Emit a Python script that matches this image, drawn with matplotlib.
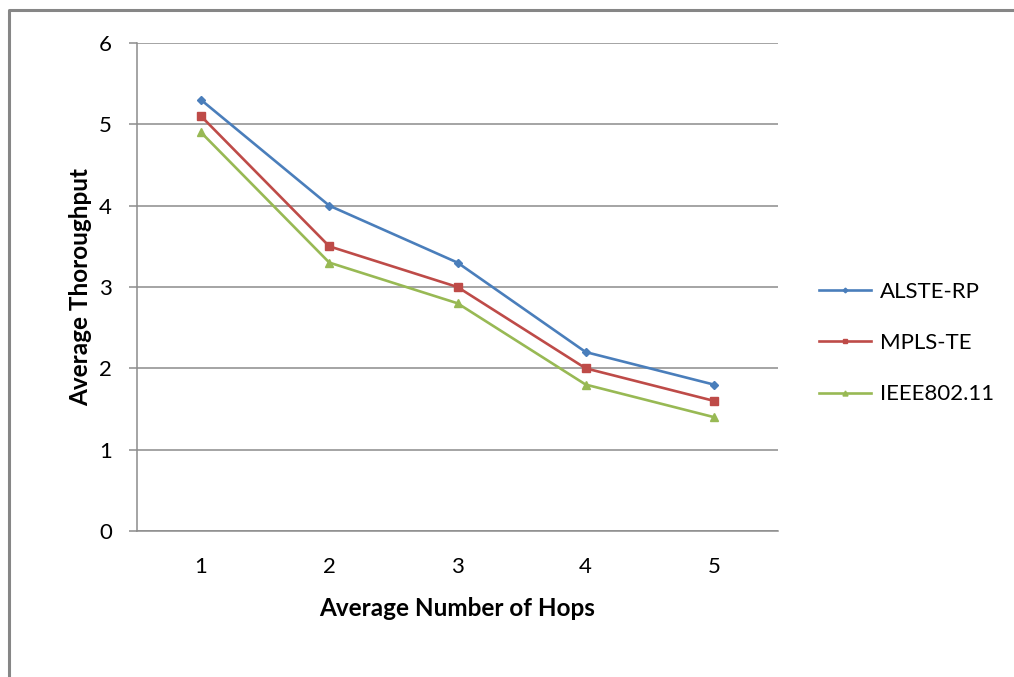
import matplotlib
matplotlib.use("Agg")
import matplotlib.pyplot as plt
from matplotlib.lines import Line2D

hops = [1, 2, 3, 4, 5]
alste_rp = [5.3, 4.0, 3.3, 2.2, 1.8]
mpls_te = [5.1, 3.5, 3.0, 2.0, 1.6]
ieee80211 = [4.9, 3.3, 2.8, 1.8, 1.4]
series_names = ["ALSTE-RP", "MPLS-TE", "IEEE802.11"]
y_ticks = [0, 1, 2, 3, 4, 5, 6]

plt.rcParams["font.family"] = ["Lato", "DejaVu Sans"]

W, H = 1014, 677
fig = plt.figure(figsize=(W / 100, H / 100), dpi=100)
fig.patch.set_facecolor("white")

# chart frame (left and top edges)
fig.add_artist(Line2D([8.5 / W, 8.5 / W, 1.0], [0.0, 1 - 9.5 / H, 1 - 9.5 / H],
                      transform=fig.transFigure, color="#868686", lw=2.2))

left, right, top, bottom = 137, 778, 43, 531
ax = fig.add_axes([left / W, 1 - bottom / H, (right - left) / W, (bottom - top) / H])

grid_c = "#8c8c8c"
for s in ["top", "right"]:
    ax.spines[s].set_visible(False)
for s in ["left", "bottom"]:
    ax.spines[s].set_color(grid_c)
    ax.spines[s].set_linewidth(1.1)

ax.set_xlim(0.5, 5.5)
ax.set_ylim(0, 6)
ax.set_yticks(y_ticks)
ax.set_xticks(hops)
ax.yaxis.grid(True, color=grid_c, lw=1.1)
ax.set_axisbelow(True)
ax.tick_params(axis="y", length=6, width=1.1, color=grid_c, labelsize=16, pad=12)
ax.tick_params(axis="x", length=0, labelsize=16, pad=19)

colors = ["#4A7EBB", "#BE4B48", "#98B954"]
markers = ["D", "s", "^"]
msizes = [4, 6, 6]
for vals, name, c, m, ms in zip([alste_rp, mpls_te, ieee80211], series_names, colors, markers, msizes):
    ax.plot(hops, vals, color=c, lw=1.9, marker=m, ms=ms, label=name, clip_on=False)

ax.set_xlabel("Average Number of Hops", fontsize=17.5, fontweight="bold", labelpad=14)
ax.set_ylabel("Average Thoroughput", fontsize=17.5, fontweight="bold", labelpad=5)

leg = ax.legend(loc="center left", bbox_to_anchor=(819 / W, 1 - 343 / H),
                bbox_transform=fig.transFigure, frameon=False, fontsize=16,
                borderpad=0, borderaxespad=0,
                handlelength=2.35, labelspacing=1.41, markerscale=0.6, handletextpad=0.4)

fig.savefig("out.png", dpi=100, facecolor="white")
